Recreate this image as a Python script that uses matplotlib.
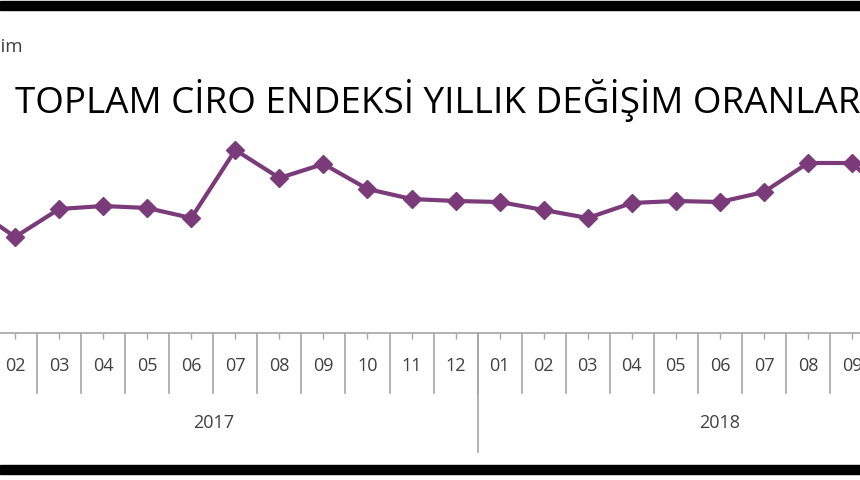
import matplotlib
matplotlib.use("Agg")
import matplotlib.pyplot as plt
import matplotlib.transforms as mtransforms
import numpy as np

plt.rcParams['font.family'] = ['Open Sans', 'DejaVu Sans']

# Yillik degisim (%), Ocak 2017 - Kasim 2018
months = ['01', '02', '03', '04', '05', '06', '07', '08', '09', '10', '11', '12',
          '01', '02', '03', '04', '05', '06', '07', '08', '09', '10', '11']
years = ['2017', '2018']
year_counts = [12, 11]
values = [25.4, 19.2, 24.8, 25.4, 25.0, 23.0, 36.6, 31.0, 33.8, 28.8, 26.8, 26.4,
          26.2, 24.6, 23.0, 26.0, 26.4, 26.2, 28.2, 34.0, 34.0, 25.6, 22.0]

W, H = 860, 480
purple = '#7B3B7B'
grey = '#A6A6A6'

fig = plt.figure(figsize=(W / 100, H / 100), dpi=100)


def fy(py):
    # pixel row from top -> figure fraction
    return 1 - py / H


ax = fig.add_axes([0, fy(333), 1, fy(83) - fy(333)])
x = np.arange(len(values))
ax.plot(x, values, color=purple, lw=3, marker='D', markersize=9.5,
        markeredgecolor=purple, clip_on=False, zorder=3)
for s in ['top', 'left', 'right']:
    ax.spines[s].set_visible(False)
ax.spines['bottom'].set_color(grey)
ax.spines['bottom'].set_linewidth(1.2)
ax.set_yticks([])
ax.set_xticks(x)
ax.set_xticklabels([])
ax.tick_params(axis='x', direction='out', length=4, width=1, color=grey)
ax.set_xlim(0.658, 20.18)
ax.set_ylim(0, 50)
ax.set_autoscale_on(False)
x0, x1 = ax.get_xlim()

trans = mtransforms.blended_transform_factory(ax.transData, fig.transFigure)

# month labels (only those inside the visible window) and separators
for i, m in enumerate(months):
    if x0 - 0.3 < i < x1 + 0.3:
        ax.text(i, fy(366), m, transform=trans, ha='center', va='center',
                fontsize=13, color='#404040')
for i in range(len(months) + 1):
    ax.plot([i - 0.5, i - 0.5], [fy(333), fy(393)], transform=trans,
            color=grey, lw=1.2, clip_on=False)

# year labels and separators
start = 0
for y, n in zip(years, year_counts):
    ax.text(start - 0.5 + n / 2, fy(423), y, transform=trans, ha='center',
            va='center', fontsize=13, color='#404040')
    ax.plot([start - 0.5, start - 0.5], [fy(333), fy(452)], transform=trans,
            color=grey, lw=1.2, clip_on=False)
    start += n
ax.plot([start - 0.5, start - 0.5], [fy(333), fy(452)], transform=trans,
        color=grey, lw=1.2, clip_on=False)

# titles
fig.text(15 / W, fy(100), 'TOPLAM CİRO ENDEKSİ YILLIK DEĞİŞİM ORANLARI',
         ha='left', va='center', fontsize=26.5, color='black')
fig.text(23 / W, fy(47), 'Yıllık % Değişim', ha='right', va='center',
         fontsize=13.5, color='#404040')

# black frame bars
fig.patches.append(plt.Rectangle((0, fy(10)), 1, 9 / H, transform=fig.transFigure,
                                 color='black', zorder=10))
fig.patches.append(plt.Rectangle((0, fy(474)), 1, 9 / H, transform=fig.transFigure,
                                 color='black', zorder=10))

fig.savefig('out.png', dpi=100)
